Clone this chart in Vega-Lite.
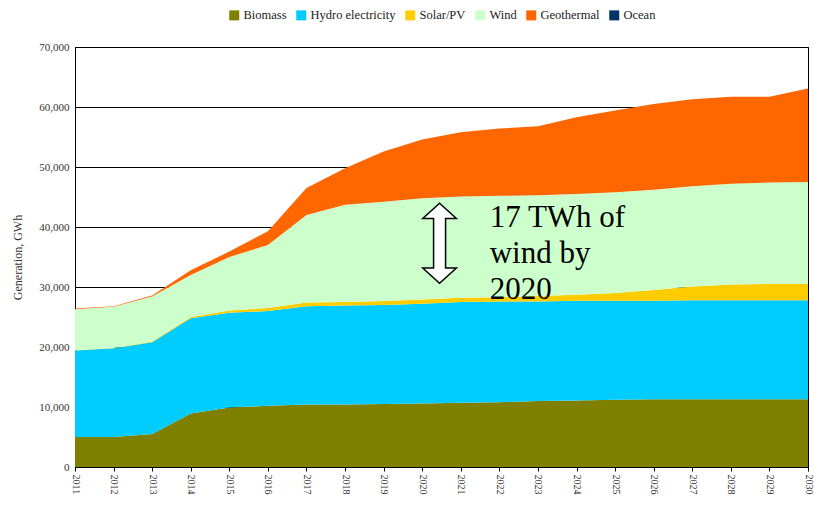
{
  "$schema": "https://vega.github.io/schema/vega-lite/v6.json",
  "width": 733,
  "height": 420,
  "autosize": {"type": "none"},
  "padding": {"left": 75, "top": 47, "right": 6, "bottom": 38},
  "background": "white",
  "config": {
    "view": {"stroke": "#000", "strokeWidth": 1},
    "font": "'Liberation Serif', serif",
    "axis": {"labelFont": "'Liberation Serif', serif", "titleFont": "'Liberation Serif', serif"},
    "axisX": {"labelOverlap": false, "labelFlush": false, "labelBound": false},
    "legend": {"labelFont": "'Liberation Serif', serif"},
    "text": {"font": "'Liberation Serif', serif"}
  },
  "datasets": {
    "gen": [
      {"year":2011,"source":"Biomass","k":1,"gwh":5000},{"year":2012,"source":"Biomass","k":1,"gwh":5000},{"year":2013,"source":"Biomass","k":1,"gwh":5500},{"year":2014,"source":"Biomass","k":1,"gwh":8900},{"year":2015,"source":"Biomass","k":1,"gwh":9900},{"year":2016,"source":"Biomass","k":1,"gwh":10200},{"year":2017,"source":"Biomass","k":1,"gwh":10400},{"year":2018,"source":"Biomass","k":1,"gwh":10400},{"year":2019,"source":"Biomass","k":1,"gwh":10500},{"year":2020,"source":"Biomass","k":1,"gwh":10600},{"year":2021,"source":"Biomass","k":1,"gwh":10700},{"year":2022,"source":"Biomass","k":1,"gwh":10800},{"year":2023,"source":"Biomass","k":1,"gwh":11000},{"year":2024,"source":"Biomass","k":1,"gwh":11100},{"year":2025,"source":"Biomass","k":1,"gwh":11200},{"year":2026,"source":"Biomass","k":1,"gwh":11300},{"year":2027,"source":"Biomass","k":1,"gwh":11300},{"year":2028,"source":"Biomass","k":1,"gwh":11300},{"year":2029,"source":"Biomass","k":1,"gwh":11300},{"year":2030,"source":"Biomass","k":1,"gwh":11300},
      {"year":2011,"source":"Hydro electricity","k":2,"gwh":14400},{"year":2012,"source":"Hydro electricity","k":2,"gwh":14800},{"year":2013,"source":"Hydro electricity","k":2,"gwh":15300},{"year":2014,"source":"Hydro electricity","k":2,"gwh":15900},{"year":2015,"source":"Hydro electricity","k":2,"gwh":15800},{"year":2016,"source":"Hydro electricity","k":2,"gwh":15800},{"year":2017,"source":"Hydro electricity","k":2,"gwh":16400},{"year":2018,"source":"Hydro electricity","k":2,"gwh":16500},{"year":2019,"source":"Hydro electricity","k":2,"gwh":16500},{"year":2020,"source":"Hydro electricity","k":2,"gwh":16600},{"year":2021,"source":"Hydro electricity","k":2,"gwh":16800},{"year":2022,"source":"Hydro electricity","k":2,"gwh":16800},{"year":2023,"source":"Hydro electricity","k":2,"gwh":16600},{"year":2024,"source":"Hydro electricity","k":2,"gwh":16600},{"year":2025,"source":"Hydro electricity","k":2,"gwh":16500},{"year":2026,"source":"Hydro electricity","k":2,"gwh":16400},{"year":2027,"source":"Hydro electricity","k":2,"gwh":16500},{"year":2028,"source":"Hydro electricity","k":2,"gwh":16500},{"year":2029,"source":"Hydro electricity","k":2,"gwh":16500},{"year":2030,"source":"Hydro electricity","k":2,"gwh":16500},
      {"year":2011,"source":"Solar/PV","k":3,"gwh":50},{"year":2012,"source":"Solar/PV","k":3,"gwh":50},{"year":2013,"source":"Solar/PV","k":3,"gwh":100},{"year":2014,"source":"Solar/PV","k":3,"gwh":200},{"year":2015,"source":"Solar/PV","k":3,"gwh":400},{"year":2016,"source":"Solar/PV","k":3,"gwh":500},{"year":2017,"source":"Solar/PV","k":3,"gwh":600},{"year":2018,"source":"Solar/PV","k":3,"gwh":600},{"year":2019,"source":"Solar/PV","k":3,"gwh":650},{"year":2020,"source":"Solar/PV","k":3,"gwh":700},{"year":2021,"source":"Solar/PV","k":3,"gwh":700},{"year":2022,"source":"Solar/PV","k":3,"gwh":700},{"year":2023,"source":"Solar/PV","k":3,"gwh":900},{"year":2024,"source":"Solar/PV","k":3,"gwh":1000},{"year":2025,"source":"Solar/PV","k":3,"gwh":1300},{"year":2026,"source":"Solar/PV","k":3,"gwh":1800},{"year":2027,"source":"Solar/PV","k":3,"gwh":2300},{"year":2028,"source":"Solar/PV","k":3,"gwh":2600},{"year":2029,"source":"Solar/PV","k":3,"gwh":2700},{"year":2030,"source":"Solar/PV","k":3,"gwh":2700},
      {"year":2011,"source":"Wind","k":4,"gwh":6850},{"year":2012,"source":"Wind","k":4,"gwh":6850},{"year":2013,"source":"Wind","k":4,"gwh":7500},{"year":2014,"source":"Wind","k":4,"gwh":7000},{"year":2015,"source":"Wind","k":4,"gwh":8900},{"year":2016,"source":"Wind","k":4,"gwh":10500},{"year":2017,"source":"Wind","k":4,"gwh":14600},{"year":2018,"source":"Wind","k":4,"gwh":16200},{"year":2019,"source":"Wind","k":4,"gwh":16550},{"year":2020,"source":"Wind","k":4,"gwh":16900},{"year":2021,"source":"Wind","k":4,"gwh":16900},{"year":2022,"source":"Wind","k":4,"gwh":16900},{"year":2023,"source":"Wind","k":4,"gwh":16800},{"year":2024,"source":"Wind","k":4,"gwh":16800},{"year":2025,"source":"Wind","k":4,"gwh":16800},{"year":2026,"source":"Wind","k":4,"gwh":16700},{"year":2027,"source":"Wind","k":4,"gwh":16700},{"year":2028,"source":"Wind","k":4,"gwh":16800},{"year":2029,"source":"Wind","k":4,"gwh":16900},{"year":2030,"source":"Wind","k":4,"gwh":17000},
      {"year":2011,"source":"Geothermal","k":5,"gwh":100},{"year":2012,"source":"Geothermal","k":5,"gwh":100},{"year":2013,"source":"Geothermal","k":5,"gwh":200},{"year":2014,"source":"Geothermal","k":5,"gwh":800},{"year":2015,"source":"Geothermal","k":5,"gwh":900},{"year":2016,"source":"Geothermal","k":5,"gwh":2300},{"year":2017,"source":"Geothermal","k":5,"gwh":4500},{"year":2018,"source":"Geothermal","k":5,"gwh":6100},{"year":2019,"source":"Geothermal","k":5,"gwh":8400},{"year":2020,"source":"Geothermal","k":5,"gwh":9800},{"year":2021,"source":"Geothermal","k":5,"gwh":10700},{"year":2022,"source":"Geothermal","k":5,"gwh":11200},{"year":2023,"source":"Geothermal","k":5,"gwh":11500},{"year":2024,"source":"Geothermal","k":5,"gwh":12800},{"year":2025,"source":"Geothermal","k":5,"gwh":13600},{"year":2026,"source":"Geothermal","k":5,"gwh":14300},{"year":2027,"source":"Geothermal","k":5,"gwh":14500},{"year":2028,"source":"Geothermal","k":5,"gwh":14500},{"year":2029,"source":"Geothermal","k":5,"gwh":14300},{"year":2030,"source":"Geothermal","k":5,"gwh":15600},
      {"year":2011,"source":"Ocean","k":6,"gwh":0},{"year":2015,"source":"Ocean","k":6,"gwh":0},{"year":2020,"source":"Ocean","k":6,"gwh":0},{"year":2025,"source":"Ocean","k":6,"gwh":0},{"year":2030,"source":"Ocean","k":6,"gwh":0}
    ],
    "arrow": [{"year": 2020.45, "gwh": 37300}],
    "note": [{"year": 2021.75, "gwh": 44000, "label": ["17 TWh of", "wind by", "2020"]}]
  },
  "encoding": {
    "x": {
      "field": "year", "type": "quantitative",
      "scale": {"domain": [2011, 2030], "nice": false, "zero": false},
      "axis": {
        "values": [2011,2012,2013,2014,2015,2016,2017,2018,2019,2020,2021,2022,2023,2024,2025,2026,2027,2028,2029,2030],
        "format": "d", "title": null, "grid": false, "labelOverlap": false,
        "labelAngle": 90, "labelAlign": "left", "labelBaseline": "middle",
        "labelFontSize": 10, "labelColor": "#333", "labelPadding": 3,
        "domainColor": "#000", "tickColor": "#000", "tickSize": 4
      }
    },
    "y": {
      "field": "gwh", "type": "quantitative",
      "scale": {"domain": [0, 70000], "nice": false},
      "axis": {
        "values": [0,10000,20000,30000,40000,50000,60000,70000],
        "format": ",d", "title": "Generation, GWh",
        "titleFontSize": 12, "titleFontWeight": "normal", "titleColor": "#333", "titlePadding": 14,
        "labelFontSize": 11, "labelColor": "#333", "labelPadding": 10,
        "grid": true, "gridColor": "#000", "gridOpacity": 1, "gridWidth": 1,
        "domainColor": "#000", "tickColor": "#000", "tickSize": -4
      }
    }
  },
  "layer": [
    {
      "data": {"name": "gen"},
      "mark": {"type": "area", "interpolate": "linear"},
      "encoding": {
        "y": {"field": "gwh", "type": "quantitative", "stack": "zero"},
        "color": {
          "field": "source", "type": "nominal",
          "scale": {
            "domain": ["Biomass", "Hydro electricity", "Solar/PV", "Wind", "Geothermal", "Ocean"],
            "range": ["#808000", "#00CCFF", "#FFCC00", "#CCFFCC", "#FF6600", "#003366"]
          },
          "legend": {
            "orient": "none", "legendX": 153, "legendY": -38,
            "direction": "horizontal", "title": null,
            "symbolType": "square", "symbolSize": 100, "symbolStrokeWidth": 0,
            "labelFontSize": 12.5, "labelColor": "#222", "labelOffset": 3,
            "columnPadding": 8
          }
        },
        "order": {"field": "k", "type": "quantitative"}
      }
    },
    {
      "data": {"name": "arrow"},
      "mark": {
        "type": "point", "filled": true, "fill": "white", "stroke": "#000", "strokeWidth": 1.5, "opacity": 1, "size": 6400,
        "shape": "M0,-1 L0.42,-0.62 L0.15,-0.62 L0.15,0.62 L0.42,0.62 L0,1 L-0.42,0.62 L-0.15,0.62 L-0.15,-0.62 L-0.42,-0.62 Z"
      }
    },
    {
      "data": {"name": "note"},
      "mark": {"type": "text", "align": "left", "baseline": "top", "font": "Liberation Serif, Times New Roman, serif", "fontSize": 31, "lineHeight": 36, "color": "#000"},
      "encoding": {
        "text": {"field": "label"}
      }
    }
  ]
}
